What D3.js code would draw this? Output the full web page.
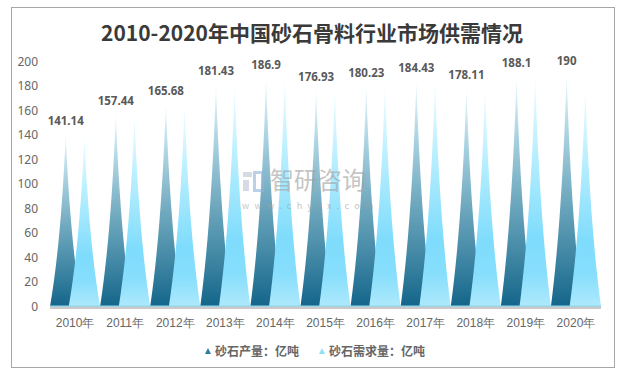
<!DOCTYPE html>
<html><head><meta charset="utf-8">
<script src="https://cdn.jsdelivr.net/npm/d3@7/dist/d3.min.js"></script>
<style>
html,body{margin:0;padding:0;background:#fff;}
svg{display:block;font-family:"Noto Sans CJK SC","Microsoft YaHei",sans-serif;}
</style></head>
<body><svg id="c" width="622" height="374"></svg>
<script>
const title = "2010-2020年中国砂石骨料行业市场供需情况";
const years = ["2010年","2011年","2012年","2013年","2014年","2015年","2016年","2017年","2018年","2019年","2020年"];
const production = [141.14,157.44,165.68,181.43,186.9,176.93,180.23,184.43,178.11,188.1,190];
const demand = [139.5,155.5,163.5,180.5,185.5,176.3,180,184,177.5,187.5,177.5];
const seriesNames = ["砂石产量：亿吨","砂石需求量：亿吨"];
const yTicks = [0,20,40,60,80,100,120,140,160,180,200];

const svg = d3.select("#c");
const defs = svg.append("defs");

// frame
svg.append("rect").attr("x",11.5).attr("y",7.5).attr("width",603).attr("height",360)
  .attr("fill","#fff").attr("stroke","#a6a6a6").attr("stroke-width",1);

// gradients
const g1 = defs.append("linearGradient").attr("id","gDark").attr("x1",0).attr("y1",0).attr("x2",0).attr("y2",1);
[[0,"#f0fcff"],[0.2,"#b7dbe8"],[0.5,"#77aec3"],[0.8,"#3d84a2"],[1,"#13658a"]].forEach(s=>g1.append("stop").attr("offset",s[0]).attr("stop-color",s[1]));
const g2 = defs.append("linearGradient").attr("id","gLight").attr("x1",0).attr("y1",0).attr("x2",0).attr("y2",1);
[[0,"#f0fdff"],[0.3,"#bdf0ff"],[0.7,"#7fdcfc"],[0.85,"#86defc"],[1,"#aee9fc"]].forEach(s=>g2.append("stop").attr("offset",s[0]).attr("stop-color",s[1]));

const x = d3.scaleBand().domain(years).range([50,601]).padding(0);
const y = d3.scaleLinear().domain([0,200]).range([306.5,61.5]);

// title
svg.append("text").attr("x",312).attr("y",41).attr("text-anchor","middle")
  .attr("font-size",21).attr("font-weight","bold").attr("fill","#3a3a3a").text(title);

// y axis labels
const yAxis = d3.axisLeft(y).tickValues(yTicks).tickSize(0).tickPadding(0);
const ya = svg.append("g").attr("transform","translate(38,0)").call(yAxis);
ya.select(".domain").remove();
ya.selectAll("text").attr("font-size",12).attr("fill","#666").attr("font-family","'Noto Sans','Open Sans',sans-serif");

// bar shape
const bw = 31.4;
function spike(x0, v){
  const y0 = y(0), yp = y(v), x1 = x0 + bw, xm = x0 + bw/2, h = y0 - yp;
  return `M${x0},${y0} Q${x0+bw*0.36},${y0-h*0.38} ${xm},${yp} Q${x1-bw*0.36},${y0-h*0.38} ${x1},${y0} Z`;
}
const bars = svg.append("g");
bars.selectAll("path.p").data(production).join("path").attr("class","p")
  .attr("d",(d,i)=>spike(x(years[i]), d)).attr("fill","url(#gDark)");
bars.selectAll("path.d").data(demand).join("path").attr("class","d")
  .attr("d",(d,i)=>spike(x(years[i]) + x.bandwidth() - bw, d)).attr("fill","url(#gLight)");

// baseline
svg.append("rect").attr("x",50).attr("y",306).attr("width",551).attr("height",3).attr("fill","#c9c9c9");
svg.append("line").attr("x1",50).attr("x2",601).attr("y1",306).attr("y2",306).attr("stroke","#86d8f5").attr("stroke-width",1);

// watermark (over bars, semi-transparent)
const wm = svg.append("g").attr("opacity",0.6);
wm.append("rect").attr("x",243).attr("y",172).attr("width",9).attr("height",5).attr("fill","#b8c4d8");
wm.append("rect").attr("x",243).attr("y",180).attr("width",6).attr("height",11).attr("fill","#b8c4d8");
wm.append("rect").attr("x",254.5).attr("y",172.5).attr("width",8).attr("height",18).attr("fill","none").attr("stroke","#8fb4dc").attr("stroke-width",3);
wm.append("text").attr("x",270).attr("y",189).attr("font-size",24).attr("fill","#a0a0a0").text("智研咨询");
wm.append("text").attr("x",242).attr("y",209).attr("font-size",9).attr("fill","#a0a0a0").attr("letter-spacing",5.3).text("www.chyxx.com");

// data labels
svg.append("g").selectAll("text").data(production).join("text")
  .attr("x",(d,i)=>x(years[i]) + bw/2).attr("y",d=>y(d)-9)
  .attr("text-anchor","middle").attr("font-size",11.5).attr("font-weight","bold")
  .attr("fill","#595959").attr("font-family","'Noto Sans','Open Sans',sans-serif").text(d=>d);

// x axis labels
const xAxis = d3.axisBottom(x).tickSize(0).tickPadding(0);
const xa = svg.append("g").attr("transform","translate(0,318)").call(xAxis);
xa.select(".domain").remove();
xa.selectAll("text").attr("font-size",12).attr("fill","#666").attr("dy","0.71em");

// legend
const leg = [{n:seriesNames[0],c:"#2f7d9f",x:205},{n:seriesNames[1],c:"#8fe0fb",x:319}];
const lg = svg.append("g");
leg.forEach(l=>{
  lg.append("path").attr("d",`M${l.x},${354} L${l.x+3},${348} L${l.x+6},${354} Z`).attr("fill",l.c);
  lg.append("text").attr("x",l.x+10).attr("y",356).attr("font-size",12).attr("font-weight","bold")
    .attr("fill","#666").text(l.n);
});
</script></body></html>
